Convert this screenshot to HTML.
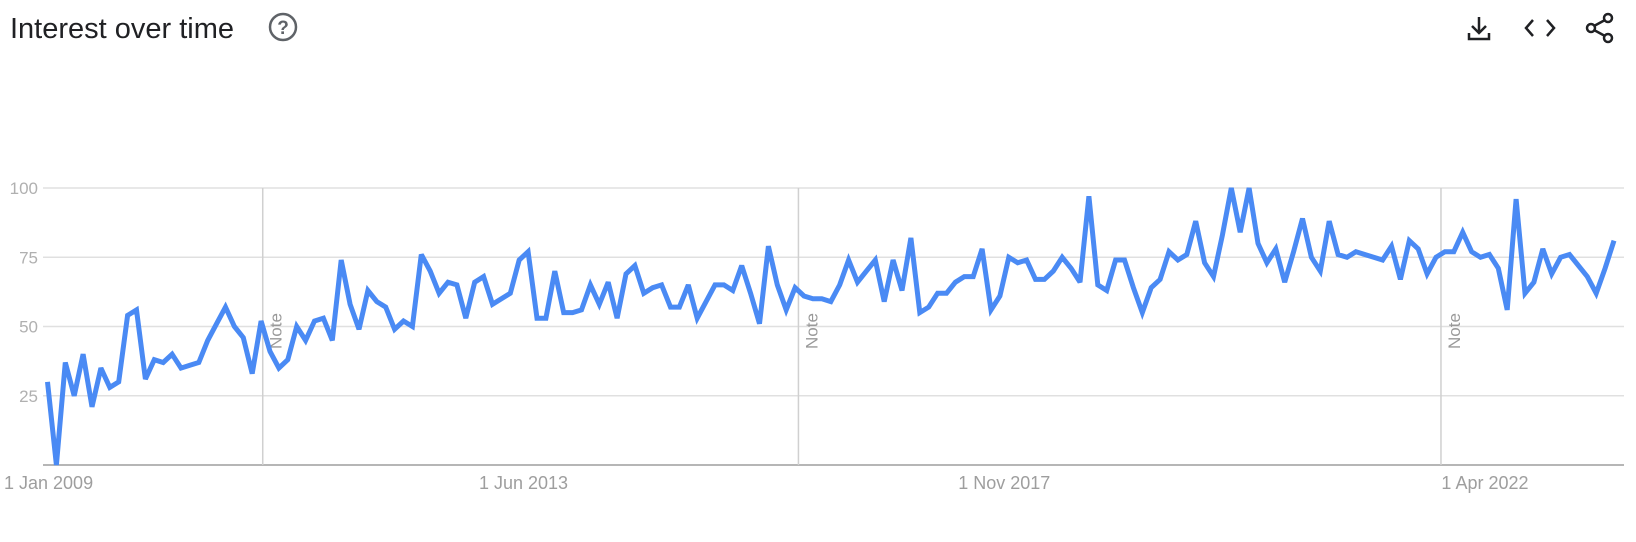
<!DOCTYPE html>
<html><head><meta charset="utf-8"><style>
html,body{margin:0;padding:0;background:#fff;}
body{width:1636px;height:537px;overflow:hidden;font-family:"Liberation Sans",sans-serif;}
</style></head><body>
<svg id="chart" width="1636" height="537" xmlns="http://www.w3.org/2000/svg" font-family="Liberation Sans, sans-serif">
<text x="10" y="38" font-size="29" fill="#202124">Interest over time</text>
<g>
<circle cx="283" cy="27" r="13" fill="none" stroke="#5f6368" stroke-width="2.5"/>
<text x="283" y="34" font-size="19" font-weight="bold" fill="#5f6368" text-anchor="middle">?</text>
</g>
<g stroke="#202124" stroke-width="2.5" fill="none">
<path d="M1479 17 V33 M1472 26 L1479 33 L1486 26"/>
<path d="M1469 33 V39 H1489 V33"/>
</g>
<g stroke="#202124" stroke-width="2.5" fill="none">
<path d="M1533 20 L1526 28 L1533 36 M1547 20 L1554 28 L1547 36"/>
</g>
<g fill="none" stroke="#202124" stroke-width="2.5">
<circle cx="1608" cy="18" r="4"/><circle cx="1591" cy="28" r="4"/><circle cx="1608" cy="38" r="4"/>
<path d="M1594 26 L1605 20 M1594 30 L1605 36"/>
</g>
<g id="grid"></g>
<g id="plot"></g>
</svg>
<script>
const values = [30,0,37,25,40,21,35,28,30,54,56,31,38,37,40,35,36,37,45,51,57,50,46,33,52,41,35,38,50,45,52,53,45,74,58,49,63,59,57,49,52,50,76,70,62,66,65,53,66,68,58,60,62,74,77,53,53,70,
55,55,56,65,58,66,53,69,72,62,64,65,57,57,65,53,59,65,65,63,72,62,51,79,65,56,64,61,60,60,59,65,74,66,70,74,59,74,63,82,55,57,62,62,66,68,68,78,56,61,75,73,74,67,67,70,75,71,66,97,65,
63,74,74,64,55,64,67,77,74,76,88,73,68,83,100,84,100,80,73,78,66,77,89,75,70,88,76,75,77,76,75,74,79,67,81,78,69,75,77,77,84,77,75,76,71,56,96,62,66,78,69,75,76,72,68,62,71,81];
const yTicks = [25,50,75,100];
const xLabels = ["1 Jan 2009","1 Jun 2013","1 Nov 2017","1 Apr 2022"];
const xLabelFrac = [0.0,0.303,0.609,0.915];
const noteFrac = [0.137,0.478,0.887];
const NS="http://www.w3.org/2000/svg";
const L=43,R=1624,T=188,B=465,X0=47.5,X1=1614;
const y=v=>B-(v/100)*(B-T);
const x=i=>X0+i*(X1-X0)/(values.length-1);
const fx=f=>X0+f*(1618.5-X0);
const grid=document.getElementById('grid'), plot=document.getElementById('plot');
function mk(tag,attrs,parent){const e=document.createElementNS(NS,tag);for(const k in attrs)e.setAttribute(k,attrs[k]);parent.appendChild(e);return e;}
yTicks.forEach(v=>{
  const ln=mk('line',{x1:L,x2:R,y1:y(v),y2:y(v),stroke:'#e0e0e0','stroke-width':1.5},grid);
  
  
  const t=mk('text',{x:38,y:y(v)+6,'font-size':17,fill:'#b0b0b0','text-anchor':'end'},grid);
  t.textContent=v;
  
  
});
const base=mk('line',{x1:L,x2:R,y1:B,y2:B,stroke:'#9e9e9e','stroke-width':1.5},grid);


noteFrac.forEach((f,k)=>{
  const xx=fx(f);
  const ln=mk('line',{x1:xx,x2:xx,y1:T,y2:B,stroke:'#d0d0d0','stroke-width':1.5},grid);
  
  
  const t=mk('text',{x:0,y:0,'font-size':17,fill:'#999','transform':`translate(${xx+19},349) rotate(-90)`},grid);
  t.textContent='Note';
  
  
});
xLabels.forEach((s,k)=>{
  const xx=k===0?4:fx(xLabelFrac[k]);
  const t=mk('text',{x:xx,y:489,'font-size':18,fill:'#9e9e9e','text-anchor':k===0?'start':'middle'},grid);
  t.textContent=s;
  
  
});
const d=values.map((v,i)=>(i?'L':'M')+x(i).toFixed(1)+' '+y(v).toFixed(1)).join(' ');
const p=mk('path',{d:d,fill:'none',stroke:'#4a8af4','stroke-width':5,'stroke-linejoin':'miter','stroke-miterlimit':3},plot);


</script>
</body></html>
